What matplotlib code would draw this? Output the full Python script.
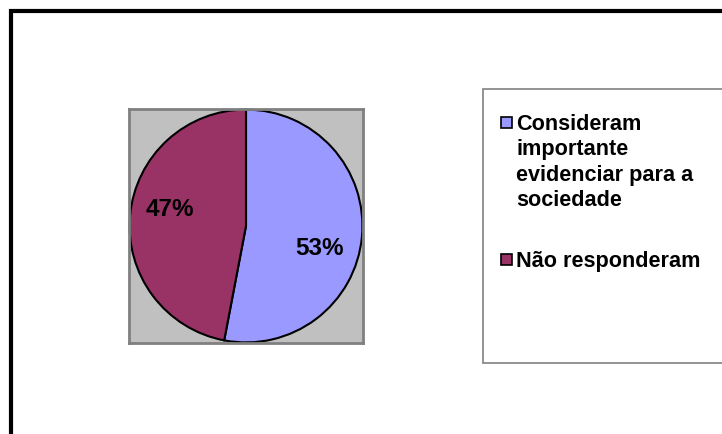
import matplotlib.pyplot as plt
from matplotlib.patches import Rectangle

# dados do gráfico
categorias = ["Consideram\nimportante\nevidenciar para a\nsociedade", "Não responderam"]
percentuais = [53, 47]
cores = ["#9999FF", "#993366"]

plt.rcParams["font.family"] = ["Liberation Sans", "DejaVu Sans"]

W, H = 722, 434
fig = plt.figure(figsize=(W / 100, H / 100), dpi=100)


def fx(px):
    return px / W


def fy(py):
    return 1 - py / H


# moldura externa
fig.patches.append(Rectangle((fx(11), fy(H + 20)), 1.2, fy(11) - fy(H + 20),
                             transform=fig.transFigure, fill=False,
                             edgecolor="black", linewidth=3))

# área do gráfico de pizza (fundo cinza)
ax = fig.add_axes([fx(129), fy(343), fx(234), (343 - 109) / H])
wedges, textos, pcts = ax.pie(percentuais, colors=cores, startangle=90, counterclock=False,
                              autopct="%1.0f%%", pctdistance=0.65, frame=True,
                              wedgeprops=dict(edgecolor="black", linewidth=1.5),
                              textprops=dict(fontsize=17.5, fontweight="bold", color="black"))
ax.set_xlim(-1.005, 1.005)
ax.set_ylim(-1.005, 1.005)
ax.set_xticks([])
ax.set_yticks([])
ax.set_facecolor("#C0C0C0")
for s in ax.spines.values():
    s.set_edgecolor("#808080")
    s.set_linewidth(2)

# posição dos rótulos de percentual
pos_rotulos = [(0.63, -0.19), (-0.65, 0.14)]
for t, p in zip(pcts, pos_rotulos):
    t.set_position(p)

# legenda
fig.patches.append(Rectangle((fx(483), fy(363)), 1.0, fy(89) - fy(363),
                             transform=fig.transFigure, facecolor="white",
                             edgecolor="#808080", linewidth=1.2))
topos = [117, 254]
for cat, cor, y in zip(categorias, cores, topos):
    fig.patches.append(Rectangle((fx(501), fy(y + 11)), fx(11), 11 / H,
                                 transform=fig.transFigure, facecolor=cor,
                                 edgecolor="black", linewidth=1.2))
    fig.text(fx(516), fy(y - 3), cat, fontsize=15.6, fontweight="bold",
             va="top", ha="left", linespacing=1.27)

fig.savefig("out.png", dpi=100)
